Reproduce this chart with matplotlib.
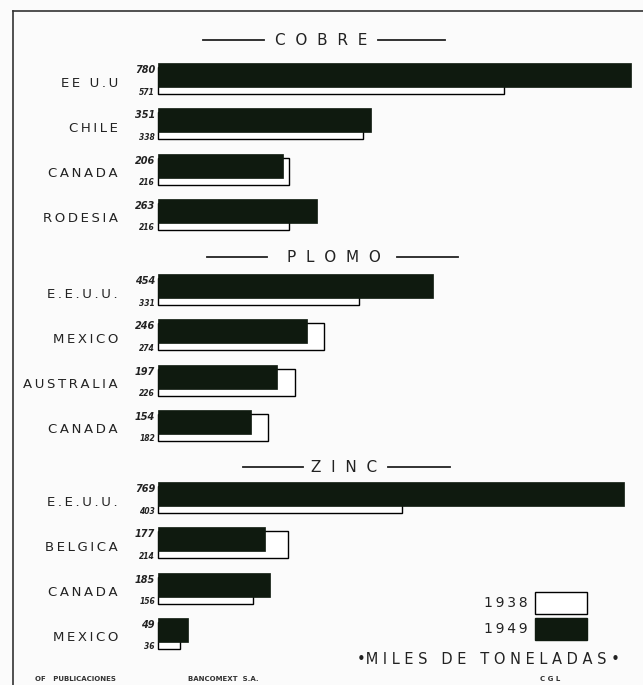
import matplotlib.pyplot as plt
from matplotlib.patches import Rectangle

metals = ['COBRE', 'PLOMO', 'ZINC']
countries = [['EE U.U', 'CHILE', 'CANADA', 'RODESIA'],
             ['E.E.U.U.', 'MEXICO', 'AUSTRALIA', 'CANADA'],
             ['E.E.U.U.', 'BELGICA', 'CANADA', 'MEXICO']]
v1949 = [[780, 351, 206, 263], [454, 246, 197, 154], [769, 177, 185, 49]]
v1938 = [[571, 338, 216, 216], [331, 274, 226, 182], [403, 214, 156, 36]]

dark = '#0f1a0f'
ink = '#222222'
bg = '#fbfbfb'


def spaced(s, sep='\u2009'):
    # hand lettering is widely tracked
    return sep.join(s)


fig = plt.figure(figsize=(6.43, 6.85), dpi=100, facecolor=bg)

# overlay in pixel units for the text and decoration
deco = fig.add_axes([0, 0, 1, 1])
deco.set_xlim(0, 643)
deco.set_ylim(685, 0)
deco.axis('off')

# bar axes: x in thousands of tonnes
ax = fig.add_axes([0, 0, 1, 1])
ax.set_xlim(-158 / 0.606, (643 - 158) / 0.606)
ax.set_ylim(685, 0)
ax.axis('off')
ax.patch.set_alpha(0)

group_tops = [63, 274, 482]
row_step = 45.3
title_y = [40, 257, 467]
title_x = [321, 334, 344]
title_lines = [[(203, 264), (378, 445)],
               [(207, 267), (397, 458)],
               [(243, 303), (388, 450)]]

for g in range(3):
    tops = [group_tops[g] + i * row_step for i in range(4)]
    ax.barh([t + 17.5 for t in tops], v1938[g], height=27,
            color='white', edgecolor='black', linewidth=1.0, zorder=2)
    ax.barh([t + 12 for t in tops], v1949[g], height=24,
            color=dark, edgecolor=dark, linewidth=0.5, zorder=3)
    for i, t in enumerate(tops):
        deco.text(118, t + 20, spaced(countries[g][i]), ha='right', va='center',
                  fontsize=9.5, color=ink)
        deco.text(155, t + 7, str(v1949[g][i]), ha='right', va='center',
                  fontsize=7, style='italic', fontweight='bold', color=ink)
        deco.text(155, t + 29, str(v1938[g][i]), ha='right', va='center',
                  fontsize=5.5, style='italic', fontweight='bold', color=ink)
    deco.text(title_x[g], title_y[g], spaced(metals[g], '  '), ha='center',
              va='center', fontsize=11, color=ink)
    for x0, x1 in title_lines[g]:
        deco.plot([x0, x1], [title_y[g]] * 2, color=ink, lw=1.3)

# legend
deco.add_patch(Rectangle((535, 592), 52, 22, facecolor='white',
                         edgecolor='black', lw=1.0))
deco.add_patch(Rectangle((535, 618), 52, 22, facecolor=dark,
                         edgecolor=dark, lw=1.0))
deco.text(528, 603, spaced('1938'), ha='right', va='center', fontsize=10, color=ink)
deco.text(528, 629, spaced('1949'), ha='right', va='center', fontsize=10, color=ink)

deco.text(488, 660, '\u2022' + spaced('MILES', ' ') + '   ' + spaced('DE', ' ')
          + '   ' + spaced('TONELADAS', ' ') + ' \u2022',
          ha='center', va='center', fontsize=10.5, color=ink)

deco.text(35, 679, 'OF   PUBLICACIONES', ha='left', va='center',
          fontsize=5, fontweight='bold', color='#333333')
deco.text(188, 679, 'BANCOMEXT  S.A.', ha='left', va='center',
          fontsize=5, fontweight='bold', color='#333333')
deco.text(540, 679, 'C G L', ha='left', va='center',
          fontsize=5, fontweight='bold', color='#333333')

# frame
deco.plot([13, 643], [11, 11], color='#333333', lw=1.2)
deco.plot([13, 13], [11, 685], color='#333333', lw=1.2)

fig.savefig('out.png', dpi=100, facecolor=bg)
